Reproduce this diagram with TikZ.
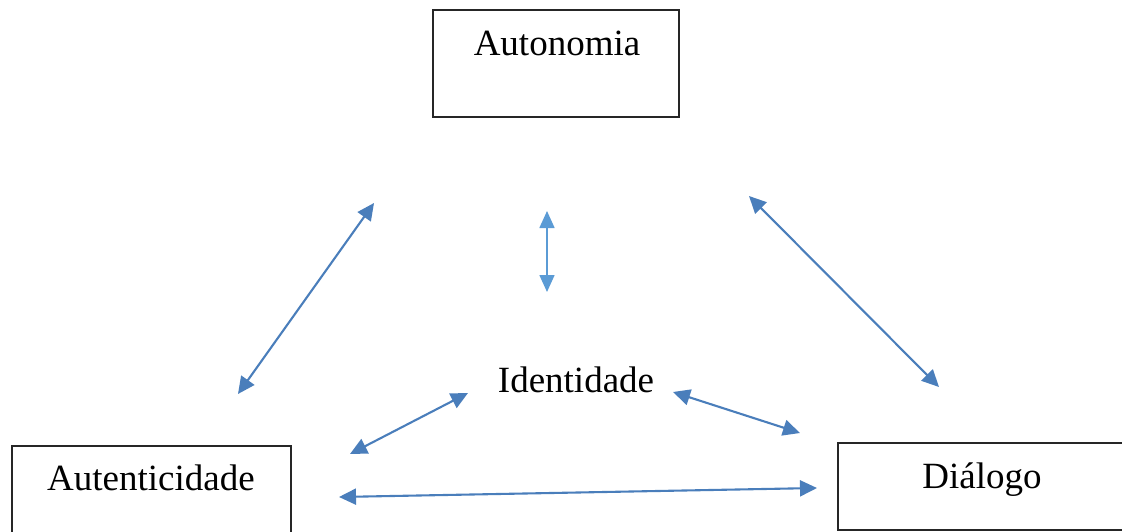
\documentclass[tikz,border=0pt]{standalone}
\usepackage{fontspec}
\setmainfont{Liberation Serif}
\usetikzlibrary{arrows.meta}
\definecolor{arrblue}{HTML}{4A7EBB}
\definecolor{arrlight}{HTML}{5B9BD5}
\tikzset{
  box/.style={draw=black!85, line width=1.8pt, inner sep=0pt},
  lbl/.style={inner sep=0pt, anchor=base, font=\fontsize{37}{44}\selectfont},
  dbl/.style={draw=arrblue, line width=2.1pt, {Triangle[length=17pt,width=16pt]}-{Triangle[length=17pt,width=16pt]}},
  dbllight/.style={draw=arrlight, line width=1.6pt, {Triangle[length=17pt,width=15pt]}-{Triangle[length=17pt,width=15pt]}}
}
\begin{document}
\begin{tikzpicture}[x=1pt,y=-1pt]
\useasboundingbox (0,0) rectangle (1122,532);
\clip (0,0) rectangle (1122,532);
% boxes
\node[box, minimum width=246pt, minimum height=107pt] (autonomia) at (556,63.5) {};
\node[box, minimum width=279pt, minimum height=100pt] (autenticidade) at (151.5,496) {};
\node[box, minimum width=292pt, minimum height=87pt] (dialogo) at (984,486.5) {};
% labels
\node[lbl] (tautonomia) at (557,56) {Autonomia};
\node[lbl] (tidentidade) at (576,392) {Identidade};
\node[lbl] (tautenticidade) at (151,490) {Autenticidade};
\node[lbl] (tdialogo) at (982,488) {Diálogo};
% arrow end points
\coordinate (a1) at (238,394);
\coordinate (a2) at (374,203);
\coordinate (b1) at (547,211);
\coordinate (b2) at (547,292);
\coordinate (c1) at (749,196);
\coordinate (c2) at (939,387);
\coordinate (d1) at (350,454);
\coordinate (d2) at (468,393);
\coordinate (e1) at (673,392);
\coordinate (e2) at (800,433);
\coordinate (f1) at (339,497);
\coordinate (f2) at (817,488);
% arrows
\draw[dbl] (a1) -- (a2);
\draw[dbllight] (b1) -- (b2);
\draw[dbl] (c1) -- (c2);
\draw[dbl] (d1) -- (d2);
\draw[dbl] (e1) -- (e2);
\draw[dbl] (f1) -- (f2);
\end{tikzpicture}
\end{document}
